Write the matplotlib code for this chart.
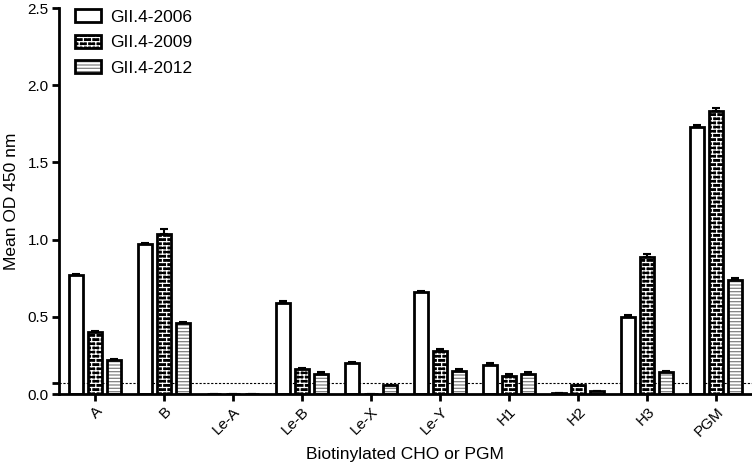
import matplotlib
matplotlib.use("Agg")
import matplotlib.pyplot as plt
import matplotlib.hatch as mhatch
from matplotlib.path import Path
from matplotlib.patches import Patch
import numpy as np
import warnings
warnings.filterwarnings("ignore")

categories = ["A", "B", "Le-A", "Le-B", "Le-X", "Le-Y", "H1", "H2", "H3", "PGM"]
series_names = ["GII.4-2006", "GII.4-2009", "GII.4-2012"]
v2006 = [0.77, 0.97, 0.0, 0.59, 0.20, 0.66, 0.19, 0.005, 0.50, 1.73]
v2009 = [0.40, 1.04, 0.0, 0.16, 0.0, 0.28, 0.12, 0.06, 0.89, 1.83]
v2012 = [0.22, 0.46, 0.0, 0.13, 0.06, 0.15, 0.13, 0.02, 0.14, 0.74]
e2006 = [0.01, 0.01, 0.0, 0.01, 0.01, 0.01, 0.01, 0.0, 0.01, 0.01]
e2009 = [0.01, 0.03, 0.0, 0.01, 0.0, 0.01, 0.01, 0.0, 0.02, 0.025]
e2012 = [0.01, 0.01, 0.0, 0.01, 0.0, 0.01, 0.01, 0.0, 0.01, 0.01]
cutoff = 0.07
yticks = [0.0, 0.5, 1.0, 1.5, 2.0, 2.5]


# custom brick hatch pattern ('b')
class BrickHatch(mhatch.HatchPatternBase):
    def __init__(self, hatch, density):
        c = hatch.count('b')
        self.rows = int(c * density)
        self.cols = max(self.rows // 2, 1)
        if self.rows:
            self.num_vertices = 2 * (self.rows + 1) + 2 * self.rows * (self.cols + 1)
        else:
            self.num_vertices = 0

    def set_vertices_and_codes(self, vertices, codes):
        i = 0
        for k in range(self.rows + 1):
            y = k / self.rows
            vertices[i] = (0.0, y); codes[i] = Path.MOVETO
            vertices[i + 1] = (1.0, y); codes[i + 1] = Path.LINETO
            i += 2
        for k in range(self.rows):
            y0 = k / self.rows
            y1 = (k + 1) / self.rows
            shift = 0.5 / self.cols if k % 2 else 0.0
            for j in range(self.cols + 1):
                xx = j / self.cols + shift
                vertices[i] = (xx, y0); codes[i] = Path.MOVETO
                vertices[i + 1] = (xx, y1); codes[i + 1] = Path.LINETO
                i += 2


mhatch._hatch_types.append(BrickHatch)

plt.rcParams['font.family'] = ['Liberation Sans', 'DejaVu Sans']
plt.rcParams['hatch.linewidth'] = 0.9

fig = plt.figure(figsize=(7.52, 4.72), dpi=100)
ax = fig.add_axes([0.0785, 0.165, 0.921, 0.818])

x = np.arange(len(categories))
w = 0.205
off = 0.275
lw = 2.0
brick = 'bbbb'
stripes = '-----'
grey = '#808080'

ax.bar(x - off, v2006, w, facecolor='white', edgecolor='black', linewidth=lw, zorder=2)
ax.bar(x, v2009, w, facecolor='black', edgecolor='white', hatch=brick, linewidth=0, zorder=2)
ax.bar(x, v2009, w, fill=False, edgecolor='black', linewidth=lw, zorder=3)
ax.bar(x + off, v2012, w, facecolor='white', edgecolor=grey, hatch=stripes, linewidth=0, zorder=2)
ax.bar(x + off, v2012, w, fill=False, edgecolor='black', linewidth=lw, zorder=3)

for dx, v, e in [(-off, v2006, e2006), (0, v2009, e2009), (off, v2012, e2012)]:
    ax.errorbar(x + dx, v, yerr=[np.zeros(len(e)), e], fmt='none', ecolor='black',
                elinewidth=1.5, capsize=3, capthick=1.5, zorder=4)

ax.axhline(cutoff, color='black', linestyle=(0, (2, 1.5)), linewidth=0.8, zorder=1)

h1 = Patch(facecolor='white', edgecolor='black', linewidth=lw)
h2 = Patch(facecolor='black', edgecolor='white', hatch=brick, linewidth=0)
h3 = Patch(facecolor='white', edgecolor=grey, hatch=stripes, linewidth=0)
h2o = Patch(fill=False, edgecolor='black', linewidth=lw)
h3o = Patch(fill=False, edgecolor='black', linewidth=lw)
ax.legend([h1, (h2, h2o), (h3, h3o)], series_names, loc='upper left',
          bbox_to_anchor=(0.023, 0.997), frameon=False, fontsize=12.5,
          borderpad=0, borderaxespad=0,
          handlelength=1.5, handleheight=0.8, labelspacing=0.56, handletextpad=0.55)

ax.set_xlim(-0.52, 9.51)
ax.set_ylim(0, 2.5)
ax.set_yticks(yticks)
ax.set_yticklabels([f"{t:.1f}" for t in yticks], fontsize=11)
ax.set_yticks([cutoff], minor=True)
ax.tick_params(axis='y', which='minor', width=2, length=5, direction='out')
ax.set_xticks(x)
ax.set_xticklabels(categories, rotation=45, ha='right', rotation_mode='anchor', fontsize=11)
for s in ['top', 'right']:
    ax.spines[s].set_visible(False)
for s in ['left', 'bottom']:
    ax.spines[s].set_linewidth(2)
ax.tick_params(axis='both', which='major', width=2, length=5, direction='out', pad=2.5)
ax.set_ylabel("Mean OD 450 nm", fontsize=12.5, labelpad=6)
ax.set_xlabel("Biotinylated CHO or PGM", fontsize=12.5, labelpad=6)

fig.savefig("out.png", dpi=100)
